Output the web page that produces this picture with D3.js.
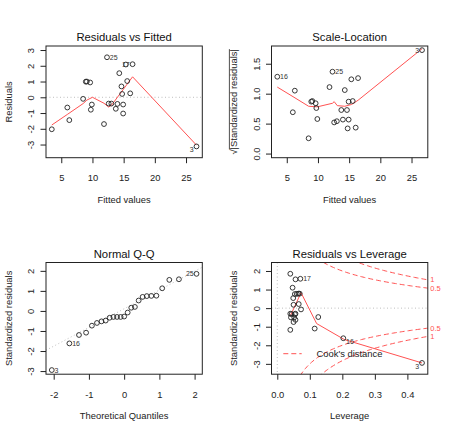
<!DOCTYPE html>
<html><head><meta charset="utf-8">
<script src="https://cdn.jsdelivr.net/npm/d3@7"></script>
<style>body{margin:0;background:#fff}</style>
</head><body>
<script>
// ---------- Data ----------
// Residuals vs Fitted
const fittedValues = [3.48,5.97,6.29,8.5,8.93,9.1,9.63,9.9,9.74,11.85,12.33,12.6,13.03,13.74,14.0,14.3,14.65,14.76,14.92,14.92,15.35,15.57,16.05,16.43,26.68];
const residuals    = [-2.03,-0.65,-1.45,-0.1,0.99,1.0,0.94,-0.46,-0.79,-1.7,2.54,-0.4,-0.4,-0.73,-0.42,1.53,0.69,0.21,-0.46,-1.03,2.08,1.03,0.25,2.1,-3.12];
const residLabels  = {10:"25", 23:"17", 24:"3"};
const smoothFitX   = [3.48,5.97,8.5,9.1,10.0,11.85,12.6,13.1,14.3,15.35,16.43,26.68];
const smoothFitY   = [-1.76,-1.09,-0.40,-0.18,0.0,-0.38,-0.62,-0.48,0.16,0.72,1.3,-3.04];
// Scale-Location
const sqrtStdResid = [1.283,0.69,1.05,0.255,0.867,0.877,0.84,0.577,0.76,1.11,1.367,0.52,0.54,0.727,0.567,1.06,0.727,0.42,0.567,0.867,1.24,0.877,0.433,1.26,1.727];
const scaleLabels  = {0:"16", 10:"25", 24:"3"};
const smoothSLX    = [3.48,6.0,8.5,9.9,12.33,12.6,13.1,14.3,15.4,16.43,26.68];
const smoothSLY    = [1.11,0.95,0.79,0.78,0.84,0.867,0.80,0.79,0.82,0.89,1.75];
// Normal Q-Q
const theoreticalQ = [-2.054,-1.555,-1.282,-1.080,-0.915,-0.772,-0.643,-0.524,-0.412,-0.305,-0.202,-0.100,0,0.100,0.202,0.305,0.412,0.524,0.643,0.772,0.915,1.080,1.282,1.555,2.054];
const sampleStd    = [-2.95,-1.62,-1.2,-1.085,-0.735,-0.6,-0.52,-0.48,-0.34,-0.3,-0.3,-0.3,-0.28,-0.08,0.16,0.2,0.52,0.7,0.74,0.75,0.76,1.13,1.55,1.58,1.85];
const qqLabels     = {0:"3", 1:"16", 24:"25"};
// Residuals vs Leverage
const leverage     = [0.040,0.056,0.071,0.047,0.054,0.060,0.065,0.069,0.049,0.066,0.073,0.050,0.040,0.044,0.054,0.056,0.042,0.052,0.056,0.050,0.040,0.115,0.126,0.203,0.445];
const stdResid     = [1.85,1.55,1.58,1.1,0.76,0.77,0.78,0.78,0.54,0.22,-0.07,0.18,-0.3,-0.32,-0.33,-0.3,-0.5,-0.5,-0.63,-0.75,-1.17,-1.1,-0.48,-1.62,-2.95];
const levLabels    = {2:"17", 23:"16", 24:"3"};
const smoothLevX   = [0.040,0.073,0.121,0.206,0.445];
const smoothLevY   = [-0.42,0.83,-0.83,-1.69,-2.95];
const cookLevels   = [0.5, 1];
const nParams      = 2;

// ---------- Layout ----------
const W=451,H=433;
const BOX={l:46,r:202.3,t:46,b:157.7};
const FS=9.4, FS_CAP=11.3, FS_ID=7;
const RED="#ff5252", INK="#222";
const svg=d3.select("body").append("svg").attr("width",W).attr("height",H)
  .style("font-family","'Liberation Sans', Arial, Helvetica, sans-serif");
svg.append("rect").attr("width",W).attr("height",H).attr("fill","#fff");

const ext=(a,b,f=0.04)=>{const d=(b-a)*f;return [a-d,b+d];};
let clipN=0;

function panel(ix,iy,o){
  const g=svg.append("g").attr("transform",`translate(${ix*225.5},${iy*216.5})`);
  const x=d3.scaleLinear().domain(o.xd).range([BOX.l,BOX.r]);
  const y=d3.scaleLinear().domain(o.yd).range([BOX.b,BOX.t]);
  const cid="clip"+(clipN++);
  g.append("clipPath").attr("id",cid).append("rect")
    .attr("x",BOX.l).attr("y",BOX.t).attr("width",BOX.r-BOX.l).attr("height",BOX.b-BOX.t);
  const inner=g.append("g").attr("clip-path",`url(#${cid})`);
  // x axis
  const ax=g.append("g").attr("transform",`translate(0,${BOX.b})`)
    .call(d3.axisBottom(x).tickValues(o.xt).tickFormat(o.xf).tickSize(5.5).tickSizeOuter(0));
  ax.select(".domain").remove();
  ax.selectAll("line").attr("stroke",INK);
  ax.selectAll("text").attr("y",16.8).attr("font-size",FS).attr("fill",INK);
  ax.attr("font-family",null);
  // y axis
  const ay=g.append("g").attr("transform",`translate(${BOX.l},0)`)
    .call(d3.axisLeft(y).tickValues(o.yt).tickFormat(o.yf).tickSize(5.5).tickSizeOuter(0));
  ay.select(".domain").remove();
  ay.attr("font-family",null);
  ay.selectAll("line").attr("stroke",INK);
  ay.selectAll("text").attr("x",null).attr("dy",null).attr("text-anchor","middle")
    .attr("transform","translate(-12,0) rotate(-90)").attr("font-size",FS).attr("fill",INK);
  // box
  g.append("rect").attr("x",BOX.l).attr("y",BOX.t).attr("width",BOX.r-BOX.l).attr("height",BOX.b-BOX.t)
    .attr("fill","none").attr("stroke",INK).attr("stroke-width",1);
  // caption
  g.append("text").attr("x",(BOX.l+BOX.r)/2).attr("y",41.3).attr("text-anchor","middle")
    .attr("font-size",FS_CAP).attr("fill","#111").text(o.cap);
  // x label
  g.append("text").attr("x",(BOX.l+BOX.r)/2).attr("y",202.7).attr("text-anchor","middle")
    .attr("font-size",FS).attr("fill",INK).text(o.xl);
  return {g,inner,x,y};
}

function ylab(g,text){
  g.append("g").attr("transform",`translate(11.5,${(BOX.t+BOX.b)/2}) rotate(-90)`)
   .append("text").attr("text-anchor","middle").attr("font-size",FS).attr("fill",INK).text(text);
}
function points(P,xs,ys){
  P.g.append("g").selectAll("circle").data(xs).join("circle")
   .attr("cx",(d)=>P.x(d)).attr("cy",(d,i)=>P.y(ys[i])).attr("r",2.4)
   .attr("fill","none").attr("stroke",INK).attr("stroke-width",0.9);
}
function idLabels(P,xs,ys,labels,shiftNeg){
  const mid=(d3.min(xs)+d3.max(xs))/2;
  Object.entries(labels).forEach(([k,lab])=>{
    const i=+k, right=xs[i]<=mid;
    const dyShift=(shiftNeg&&ys[i]<0)?3.3:0;
    P.g.append("text").attr("x",P.x(xs[i])+(right?2.8:-2.8)).attr("y",P.y(ys[i])+dyShift)
     .attr("dy","0.35em").attr("text-anchor",right?"start":"end")
     .attr("font-size",FS_ID).attr("fill","#333").text(lab);
  });
}
function smoothLine(P,xs,ys){
  P.inner.append("path").datum(xs).attr("fill","none").attr("stroke",RED).attr("stroke-width",1)
   .attr("d",d3.line().x(d=>P.x(d)).y((d,i)=>P.y(ys[i])));
}
function hline(P,v){
  P.inner.append("line").attr("x1",BOX.l).attr("x2",BOX.r).attr("y1",P.y(v)).attr("y2",P.y(v))
   .attr("stroke","#bebebe").attr("stroke-dasharray","1,2.5");
}
function vline(P,v){
  P.inner.append("line").attr("y1",BOX.t).attr("y2",BOX.b).attr("x1",P.x(v)).attr("x2",P.x(v))
   .attr("stroke","#bebebe").attr("stroke-dasharray","1,2.5");
}
const intFmt=d=>String(d);
const fix1=d=>d.toFixed(1);

// ---------- Panel 1: Residuals vs Fitted ----------
{
  const xr=d3.extent(fittedValues), yr=ext(d3.min(residuals),d3.max(residuals),0.08);
  const P=panel(0,0,{xd:ext(...xr),yd:ext(...yr),xt:[5,10,15,20,25],xf:intFmt,yt:[-3,-2,-1,0,1,2,3],yf:intFmt,
    cap:"Residuals vs Fitted",xl:"Fitted values"});
  ylab(P.g,"Residuals");
  hline(P,0);
  smoothLine(P,smoothFitX,smoothFitY);
  points(P,fittedValues,residuals);
  idLabels(P,fittedValues,residuals,residLabels,true);
}
// ---------- Panel 2: Scale-Location ----------
{
  const xr=d3.extent(fittedValues);
  const P=panel(1,0,{xd:ext(...xr),yd:ext(0,d3.max(sqrtStdResid)),xt:[5,10,15,20,25],xf:intFmt,yt:[0,0.5,1,1.5],yf:fix1,
    cap:"Scale-Location",xl:"Fitted values"});
  const lg=P.g.append("g").attr("transform",`translate(11.5,${(BOX.t+BOX.b)/2}) rotate(-90)`);
  const t=lg.append("text").attr("text-anchor","middle").attr("font-size",FS).attr("fill",INK);
  t.append("tspan").text("\u221A");
  t.append("tspan").text("|Standardized residuals|");
  const bb=t.node().getBBox();
  const sw=t.node().getSubStringLength(0,1);
  lg.append("line").attr("x1",bb.x+sw).attr("x2",bb.x+bb.width).attr("y1",-7.6).attr("y2",-7.6)
    .attr("stroke",INK).attr("stroke-width",0.8);
  smoothLine(P,smoothSLX,smoothSLY);
  points(P,fittedValues,sqrtStdResid);
  idLabels(P,fittedValues,sqrtStdResid,scaleLabels,false);
}
// ---------- Panel 3: Normal Q-Q ----------
{
  const lo=d3.min(sampleStd), hi=d3.max(sampleStd);
  const P=panel(0,1,{xd:ext(d3.min(theoreticalQ),d3.max(theoreticalQ)),yd:ext(lo,hi+(hi-lo)*0.075),
    xt:[-2,-1,0,1,2],xf:intFmt,yt:[-3,-2,-1,0,1,2],yf:intFmt,cap:"Normal Q-Q",xl:"Theoretical Quantiles"});
  ylab(P.g,"Standardized residuals");
  const q1=d3.quantile(sampleStd,0.25), q3=d3.quantile(sampleStd,0.75);
  const slope=(q3-q1)/(2*0.6744898), icpt=q1+slope*0.6744898;
  const [xa,xb]=P.x.domain();
  P.inner.append("line").attr("x1",P.x(xa)).attr("x2",P.x(xb))
    .attr("y1",P.y(icpt+slope*xa)).attr("y2",P.y(icpt+slope*xb))
    .attr("stroke","#bebebe").attr("stroke-dasharray","1,2.5");
  points(P,theoreticalQ,sampleStd);
  idLabels(P,theoreticalQ,sampleStd,qqLabels,false);
}
// ---------- Panel 4: Residuals vs Leverage ----------
{
  const yr=ext(d3.min(stdResid),d3.max(stdResid),0.08);
  const P=panel(1,1,{xd:ext(0,d3.max(leverage)),yd:ext(...yr),xt:[0,0.1,0.2,0.3,0.4],xf:fix1,
    yt:[-3,-2,-1,0,1,2],yf:intFmt,cap:"Residuals vs Leverage",xl:"Leverage"});
  ylab(P.g,"Standardized residuals");
  hline(P,0); vline(P,0);
  const xmax=P.x.domain()[1];
  const hh=d3.range(101).map(i=>0.01+(xmax-0.01)*i/100);
  cookLevels.forEach(lv=>{
    [1,-1].forEach(sg=>{
      P.inner.append("path").datum(hh).attr("fill","none").attr("stroke",RED).attr("stroke-width",1)
        .attr("stroke-dasharray","5,3")
        .attr("d",d3.line().x(h=>P.x(h)).y(h=>P.y(sg*Math.sqrt(lv*nParams*(1-h)/h))));
      P.g.append("text").attr("x",BOX.r+2.5).attr("y",P.y(sg*Math.sqrt(lv*nParams*(1-xmax)/xmax)))
        .attr("dy","0.35em").attr("font-size",FS_ID+0.5).attr("fill",RED).text(String(lv));
    });
  });
  smoothLine(P,smoothLevX,smoothLevY);
  points(P,leverage,stdResid);
  idLabels(P,leverage,stdResid,levLabels,true);
  P.g.append("line").attr("x1",BOX.l+11.8).attr("x2",BOX.l+30.2).attr("y1",BOX.b-20.5).attr("y2",BOX.b-20.5)
    .attr("stroke",RED).attr("stroke-dasharray","5,3");
  P.g.append("text").attr("x",BOX.l+45).attr("y",BOX.b-20.5).attr("dy","0.35em")
    .attr("font-size",FS).attr("fill",INK).text("Cook's distance");
}
</script>
</body></html>
